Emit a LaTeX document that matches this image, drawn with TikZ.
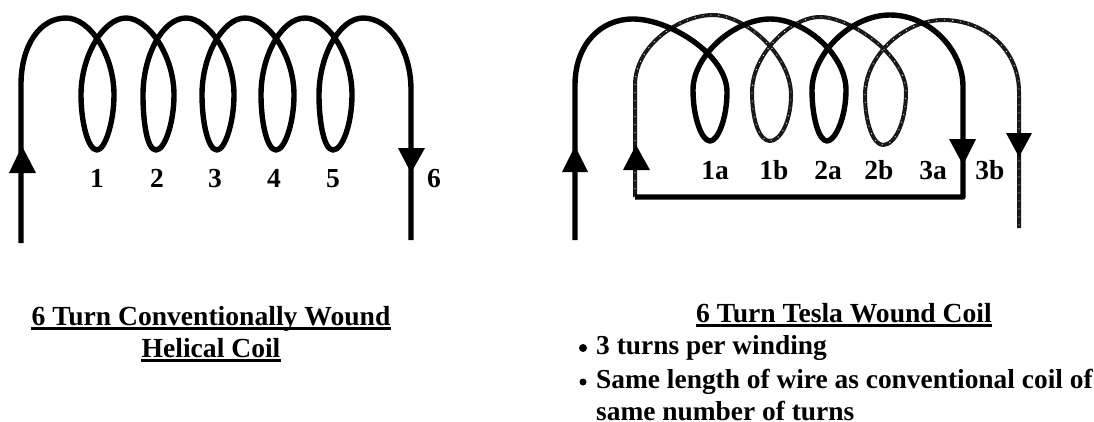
\documentclass[tikz,border=0pt]{standalone}
\usepackage{fontspec}
\setmainfont{Liberation Serif}
\tikzset{
  wire/.style={line width=5.4pt,line cap=butt,line join=round,black},
  thinwire/.style={line width=4pt,line cap=butt,line join=round,black!90},
  speck/.style={line width=.7pt,white,dash pattern=on 1pt off 7pt},
  head/.style={fill=black,draw=none},
  lab/.style={font=\bfseries\fontsize{27.5}{28}\selectfont,inner sep=0pt,anchor=base},
  ttl/.style={font=\bfseries\fontsize{27.6}{28}\selectfont,inner sep=0pt,anchor=base},
  body/.style={font=\bfseries\fontsize{27.4}{28}\selectfont,inner sep=0pt,anchor=base west},
  ul/.style={line width=2.8pt,black}
}
\begin{document}
\begin{tikzpicture}[x=1pt,y=-1pt]
\useasboundingbox (0,0) rectangle (1094,421);
% conventional coil
\draw[wire] (21,243) -- (21,85)
  .. controls (21,45) and (40,18) .. (66,18)
  .. controls (90,18) and (114,55) .. (114,95)
  .. controls (114,122) and (105,150) .. (97,150)
  .. controls (88,150) and (81,122) .. (81,95)
  .. controls (81,55) and (104,18) .. (126,18)
  .. controls (148,18) and (174,55) .. (174,95)
  .. controls (174,122) and (165,150) .. (156,150)
  .. controls (147,150) and (143,122) .. (143,95)
  .. controls (143,55) and (163,18) .. (186,18)
  .. controls (208,18) and (234,55) .. (234,95)
  .. controls (234,122) and (225,150) .. (217,150)
  .. controls (208,150) and (202,122) .. (202,95)
  .. controls (202,55) and (223,18) .. (245,18)
  .. controls (268,18) and (294,55) .. (294,95)
  .. controls (294,122) and (285,150) .. (276,150)
  .. controls (267,150) and (261,122) .. (261,95)
  .. controls (261,55) and (282,18) .. (305,18)
  .. controls (328,18) and (352,55) .. (352,95)
  .. controls (352,122) and (343,150) .. (333,150)
  .. controls (324,150) and (319,122) .. (319,95)
  .. controls (319,55) and (340,18) .. (363,18)
  .. controls (390,18) and (411,50) .. (411,90)
  -- (411,240);
\fill[head] (22,146) -- (36,173) -- (9,173) -- cycle;
\fill[head] (411,173) -- (398,148) -- (425,148) -- cycle;
\foreach \n/\x/\t in {n1/97/1,n2/157/2,n3/215/3,n4/274/4,n5/333/5,n6/434/6}
  \node[lab] (\n) at (\x,187) {\t};
% Tesla coil: second winding (lighter)
\draw[thinwire] (635,197) -- (635,85)
  .. controls (635,45) and (680,15) .. (713,15)
  .. controls (745,15) and (791,55) .. (791,95)
  .. controls (791,122) and (780,141) .. (770,141)
  .. controls (760,141) and (752,122) .. (752,92)
  .. controls (752,55) and (790,17) .. (820,17)
  .. controls (850,17) and (906,55) .. (906,92)
  .. controls (906,122) and (895,145) .. (883,145)
  .. controls (873,145) and (865,122) .. (865,95)
  .. controls (865,55) and (905,20) .. (943,20)
  .. controls (985,20) and (1019,50) .. (1019,92)
  -- (1019,228);
\draw[speck] (635,197) -- (635,85)
  .. controls (635,45) and (680,15) .. (713,15)
  .. controls (745,15) and (791,55) .. (791,95)
  .. controls (791,122) and (780,141) .. (770,141)
  .. controls (760,141) and (752,122) .. (752,92)
  .. controls (752,55) and (790,17) .. (820,17)
  .. controls (850,17) and (906,55) .. (906,92)
  .. controls (906,122) and (895,145) .. (883,145)
  .. controls (873,145) and (865,122) .. (865,95)
  .. controls (865,55) and (905,20) .. (943,20)
  .. controls (985,20) and (1019,50) .. (1019,92)
  -- (1019,228);
% Tesla coil: first winding
\draw[wire] (575,240) -- (575,85)
  .. controls (575,45) and (600,19) .. (633,19)
  .. controls (670,19) and (727,55) .. (727,92)
  .. controls (727,118) and (718,141) .. (710,141)
  .. controls (702,141) and (693,118) .. (693,90)
  .. controls (693,55) and (735,19) .. (770,19)
  .. controls (805,19) and (846,55) .. (846,90)
  .. controls (846,118) and (835,141) .. (827,141)
  .. controls (819,141) and (812,118) .. (812,90)
  .. controls (812,55) and (850,15) .. (890,15)
  .. controls (930,15) and (963,50) .. (963,87)
  -- (963,197) -- (635,197);
\fill[head] (575,146) -- (588,172) -- (562,172) -- cycle;
\fill[head] (963,165) -- (949,139) -- (976,139) -- cycle;
\fill[head] (636,145) -- (650,170) -- (623,170) -- cycle;
\fill[head] (1019,157) -- (1006,133) -- (1032,133) -- cycle;
\foreach \n/\x/\t in {m1/715/1a,m2/774/1b,m3/828/2a,m4/879/2b,m5/933/3a,m6/990/3b}
  \node[lab] (\n) at (\x,179) {\t};
% captions
\node[ttl] (t1) at (211,325) {6 Turn Conventionally Wound};
\node[ttl] (t2) at (211,357) {Helical Coil};
\node[ttl] (t3) at (844,322) {6 Turn Tesla Wound Coil};
\draw[ul] ([yshift=-3.5pt]t1.base west) -- ([yshift=-3.5pt]t1.base east);
\draw[ul] ([yshift=-3.5pt]t2.base west) -- ([yshift=-3.5pt]t2.base east);
\draw[ul] ([yshift=-3.5pt]t3.base west) -- ([yshift=-3.5pt]t3.base east);
\node[body] (b1) at (596,354) {3 turns per winding};
\node[body] (b2) at (596,388) {Same length of wire as conventional coil of};
\node[body] (b3) at (596,420) {same number of turns};
\fill (583,348) circle (4pt);
\fill (583,382) circle (3.5pt);
\end{tikzpicture}
\end{document}
